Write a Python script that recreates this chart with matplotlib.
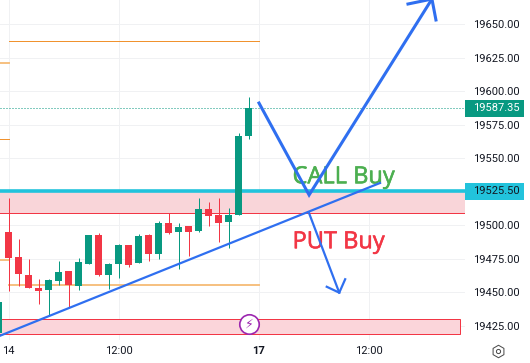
import matplotlib
matplotlib.use('Agg')
import matplotlib.pyplot as plt
import matplotlib.patheffects as pe
from matplotlib.patches import Rectangle
from matplotlib.lines import Line2D

plt.rcParams['font.family'] = 'Roboto'

UP = '#089981'
DOWN = '#f23645'
CYAN = '#22c3dc'
BLUE_LINE = '#2f6ff0'
THIN = 0.72

# bar index, open, high, low, close
bars_x = list(range(0, 26))
opens = [19419.7, 19495.0, 19476.4, 19463.0, 19453.3, 19451.8, 19458.5, 19466.0, 19454.8, 19471.2,
         19492.8, 19463.0, 19471.2, 19485.3, 19472.1, 19492.8, 19478.6, 19501.7, 19495.0, 19499.5,
         19495.8, 19512.1, 19507.7, 19502.5, 19507.7, 19566.5]
highs = [19442.8, 19520.1, 19489.8, 19474.9, 19460.0, 19460.0, 19473.4, 19466.0, 19475.6, 19492.8,
         19494.3, 19471.9, 19486.0, 19485.3, 19493.5, 19493.5, 19503.2, 19509.1, 19501.7, 19499.5,
         19520.3, 19517.4, 19520.3, 19512.9, 19568.8, 19595.6]
lows = [19419.7, 19451.3, 19454.8, 19453.5, 19441.4, 19433.2, 19455.5, 19439.1, 19451.8, 19471.2,
        19462.2, 19452.5, 19460.7, 19469.0, 19472.1, 19473.4, 19474.9, 19493.5, 19467.4, 19477.1,
        19495.0, 19499.5, 19487.6, 19483.1, 19507.7, 19564.3]
closes = [19442.8, 19475.9, 19463.7, 19453.5, 19451.3, 19459.0, 19465.2, 19455.5, 19472.6, 19492.8,
          19463.0, 19471.2, 19485.3, 19470.4, 19492.0, 19478.6, 19501.7, 19494.3, 19498.7, 19495.0,
          19512.1, 19506.9, 19501.7, 19507.7, 19566.5, 19587.4]

price_ticks = [19425, 19450, 19475, 19500, 19525, 19550, 19575, 19600, 19625, 19650]
price_labels = ['19425.00', '19450.00', '19475.00', '19500.00', '', '19550.00', '19575.00', '19600.00', '19625.00', '19650.00']
time_pos = [1, 12, 26, 37]
time_labels = ['14', '12:00', '17', '12:00']
last_price = 19587.35
zone_price = 19525.50

# drawings, in bar index / price
zone_top = [19525.5, 19509.0]
zone_low = [19430.0, 19418.8]
call_x = [26.0, 31.0, 43.26]
call_y = [19591.1, 19522.6, 19668.6]
call_head_x = [40.87, 43.26, 43.66]
call_head_y = [19664.9, 19668.6, 19653.0]
trend_x = [0.15, 38.07]
trend_y = [19417.7, 19531.5]
put_x = [31.0, 34.01]
put_y = [19509.0, 19449.8]
put_head_x = [32.76, 34.01, 34.6]
put_head_y = [19454.2, 19449.8, 19459.8]

W, H = 530, 363
AX_W, AX_H = 465, 340
fig = plt.figure(figsize=(W / 100, H / 100), dpi=100)
ax = fig.add_axes([0, 1 - AX_H / H, AX_W / W, AX_H / H])

ax.set_xlim(0.15, 46.56)
ax.set_ylim(19650 - (340 - 24) / 1.342, 19650 + 24 / 1.342)
for s in ax.spines.values():
    s.set_visible(False)
ax.set_xticks(time_pos)
ax.set_xticklabels(time_labels, fontsize=8, color='#131722')
ax.get_xticklabels()[2].set_fontweight('bold')
ax.set_yticks(price_ticks)
ax.set_yticklabels(price_labels, fontsize=8, color='#131722')
ax.yaxis.tick_right()
ax.tick_params(length=0)
ax.tick_params(axis='y', pad=5.8)
ax.tick_params(axis='x', pad=4.5)
ax.grid(True, color='#f0f1f3', lw=THIN)
ax.set_axisbelow(True)

# zones
ax.axhspan(zone_top[1], zone_top[0], color='#f9d5d9', lw=0, zorder=1)
ax.axhline(zone_top[1], color=DOWN, lw=THIN, zorder=1.5)
ax.add_patch(Rectangle((-1, zone_low[1]), 47.1, zone_low[0] - zone_low[1], fc='#fbd5da', ec=DOWN, lw=THIN, zorder=1))

# horizontal levels
ax.plot([1, 26], [19637.3, 19637.3], color='#f0922e', lw=THIN, zorder=1.5)
ax.plot([1, 26], [19455.5, 19455.5], color='#f6c07f', lw=1.4, zorder=1.5)
ax.plot([0.15, 1], [19620.6, 19620.6], color='#f6c07f', lw=1.4)
ax.plot([0.15, 1], [19564.3, 19564.3], color='#f0922e', lw=THIN)
ax.plot([0.15, 1], [19474.4, 19474.4], color='#f6c07f', lw=1.4)

# candles
for x, o, h, l, c in zip(bars_x, opens, highs, lows, closes):
    col = UP if c >= o else DOWN
    ax.plot([x, x], [l, h], color=col, lw=THIN, solid_capstyle='butt', zorder=3)
    ax.add_patch(Rectangle((x - 0.35, min(o, c)), 0.7, abs(c - o), fc=col, ec=col, lw=0, zorder=3))

ax.axhline(last_price, color=UP, lw=THIN, ls=(0, (1, 2)), zorder=2)
ax.axhline(zone_price, color=CYAN, lw=2.6, zorder=2.5)

# hand drawn lines
ax.plot(call_x, call_y, color=BLUE_LINE, lw=2.2, zorder=4, clip_on=False, solid_joinstyle='miter')
ax.plot(call_head_x, call_head_y, color=BLUE_LINE, lw=2.2, zorder=4, clip_on=False)
ax.plot(trend_x, trend_y, color=BLUE_LINE, lw=1.6, zorder=4)
ax.plot(put_x, put_y, color=BLUE_LINE, lw=1.6, zorder=4)
ax.plot(put_head_x, put_head_y, color=BLUE_LINE, lw=1.6, zorder=4)

for label, y, col in [('CALL Buy', 19531.3, '#4caf50'), ('PUT Buy', 19482.9, DOWN)]:
    t = ax.text(29.35, y, label, color=col, fontsize=17, va='baseline', ha='left', zorder=3.5, family='Open Sans')
    t.set_path_effects([pe.withStroke(linewidth=0.4, foreground=col)])

# lightning badge
ax.plot([25.03], [19426.2], marker='o', ms=14, mfc='white', mec='#9c27b0', mew=1.2, zorder=6)
ax.text(25.03, 19426.2, '\u26a1', color='#9c27b0', fontsize=9, ha='center', va='center', zorder=7, family='DejaVu Sans')

# price labels on the axis
for price, fc, tc in [(last_price, UP, 'white'), (zone_price, CYAN, '#131722')]:
    ax.add_patch(Rectangle((1, price - 6.3), 59 / AX_W, 12.6, transform=ax.get_yaxis_transform(), fc=fc, ec='none', clip_on=False, zorder=5))
    ax.text(1 + 8 / AX_W, price, '%.2f' % price, transform=ax.get_yaxis_transform(), color=tc, fontsize=8, va='center', ha='left', clip_on=False, zorder=6)

# settings icon
fig.add_artist(Line2D([498 / W], [1 - 351 / H], marker='h', ms=9, mfc='none', mec='#4a4a4a', mew=THIN))
fig.add_artist(Line2D([498 / W], [1 - 351 / H], marker='o', ms=3, mfc='none', mec='#4a4a4a', mew=THIN))

fig.savefig('out.png', dpi=100)
